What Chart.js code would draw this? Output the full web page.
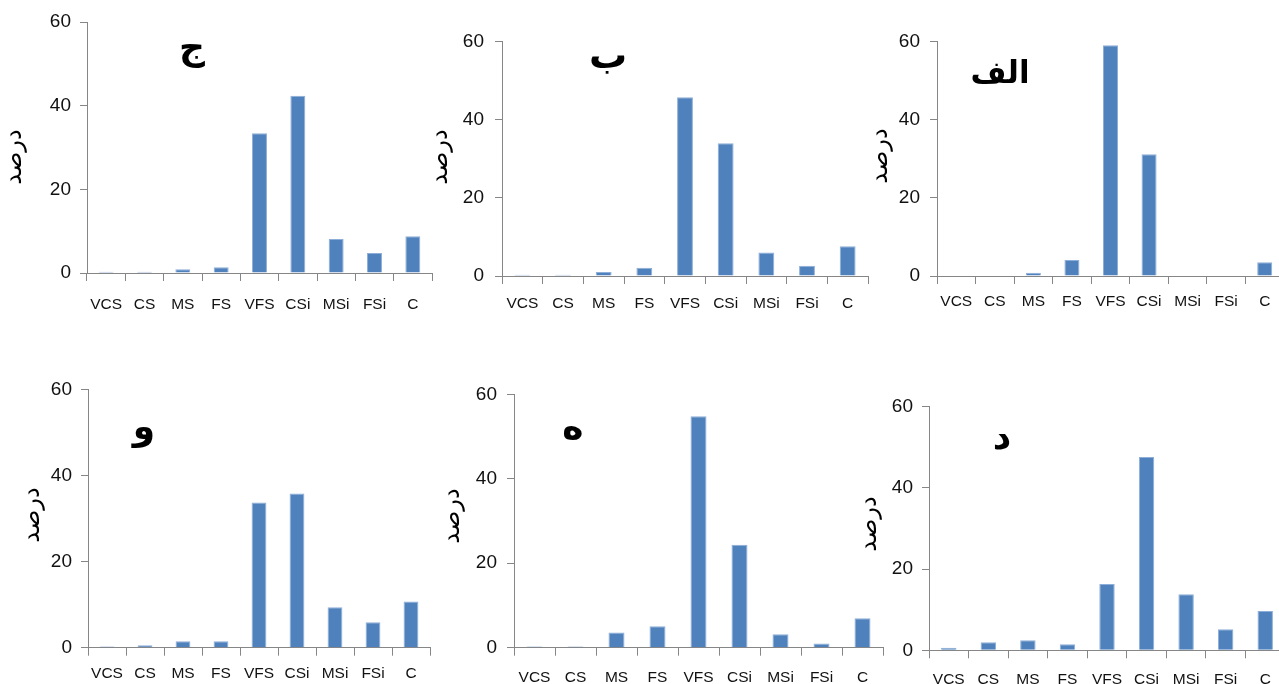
<!DOCTYPE html>
<html>
<head>
<meta charset="utf-8">
<script src="https://cdn.jsdelivr.net/npm/chart.js@4.4.1/dist/chart.umd.min.js"></script>
<style>
  html, body { margin: 0; padding: 0; background: #ffffff; width: 1279px; height: 684px; overflow: hidden; }
  #wrap { position: relative; width: 1279px; height: 684px; }
  canvas { position: absolute; left: 0; top: 0; }
</style>
</head>
<body>
<div id="wrap"></div>
<script>
// ---- data ----
const categories = ['VCS', 'CS', 'MS', 'FS', 'VFS', 'CSi', 'MSi', 'FSi', 'C'];
const yTicks = [0, 20, 40, 60];
const yAxisTitle = 'درصد';
const valuesAlef = [0, 0, 0.85, 4.1, 59.1, 31.2, 0, 0, 3.5];
const valuesBe   = [0.3, 0.3, 1.0, 2.1, 45.8, 34.0, 6.0, 2.6, 7.6];
const valuesJim  = [0.3, 0.3, 0.9, 1.4, 33.4, 42.4, 8.1, 4.8, 8.8];
const valuesDal  = [0.65, 2.0, 2.5, 1.5, 16.3, 47.6, 13.8, 5.2, 9.7];
const valuesHe   = [0.3, 0.3, 3.6, 5.05, 54.8, 24.4, 3.2, 1.0, 7.0];
const valuesVav  = [0.3, 0.55, 1.5, 1.5, 33.7, 35.8, 9.4, 5.9, 10.7];
const titleAlef = 'الف';
const titleBe = 'ب';
const titleJim = 'ج';
const titleDal = 'د';
const titleHe = 'ه';
const titleVav = 'و';

// ---- layout (pixel placement of each panel) ----
const CW = 1300, CH = 684, YW = 60, XH = 50;
const panels = [
  { title: titleJim,  values: valuesJim,  axisX: 87,  top: 22,    bottom: 273,   right: 432,  xPad: 14, yPad: 9,  yt: [15, 157],  tt: [192, 50],  ts: 36 },
  { title: titleBe,   values: valuesBe,   axisX: 502, top: 41.7,  bottom: 276,   right: 868,  xPad: 10, yPad: 11, yt: [441, 157], tt: [608, 58],  ts: 38 },
  { title: titleAlef, values: valuesAlef, axisX: 937, top: 41.7,  bottom: 276,   right: 1284, xPad: 8,  yPad: 10, yt: [881, 156], tt: [1000, 75], ts: 31 },
  { title: titleVav,  values: valuesVav,  axisX: 88,  top: 389.3, bottom: 647.7, right: 430,  xPad: 9,  yPad: 9,  yt: [33, 515],  tt: [144, 430], ts: 36 },
  { title: titleHe,   values: valuesHe,   axisX: 514, top: 394.3, bottom: 647.7, right: 883,  xPad: 13, yPad: 10, yt: [453, 516], tt: [573, 430], ts: 36 },
  { title: titleDal,  values: valuesDal,  axisX: 929, top: 406.7, bottom: 650.3, right: 1285, xPad: 12, yPad: 9,  yt: [870, 524], tt: [1002, 440], ts: 36 }
];

const panelText = {
  id: 'panelText',
  afterDraw(chart, args, opts) {
    const ctx = chart.ctx;
    ctx.save();
    ctx.fillStyle = '#000';
    ctx.textAlign = 'center';
    ctx.textBaseline = 'middle';
    // y-axis title
    ctx.save();
    ctx.translate(opts.yt[0], opts.yt[1]);
    ctx.rotate(-Math.PI / 2);
    ctx.font = '24px "DejaVu Sans", sans-serif';
    ctx.fillText(opts.yTitle, 0, 0);
    ctx.restore();
    // panel label
    ctx.font = 'bold ' + opts.ts + 'px "DejaVu Sans", sans-serif';
    ctx.fillText(opts.title, opts.tt[0], opts.tt[1]);
    ctx.restore();
  }
};

const wrap = document.getElementById('wrap');
panels.forEach((p) => {
  const c = document.createElement('canvas');
  c.width = CW; c.height = CH;
  c.style.width = CW + 'px'; c.style.height = CH + 'px';
  wrap.appendChild(c);
  new Chart(c.getContext('2d'), {
    type: 'bar',
    data: {
      labels: categories,
      datasets: [{
        data: p.values,
        backgroundColor: '#4F81BD',
        borderColor: '#8DAED8',
        borderWidth: 1,
        barPercentage: 0.39,
        categoryPercentage: 1.0
      }]
    },
    options: {
      responsive: false,
      animation: false,
      devicePixelRatio: 1,
      layout: {
        padding: {
          left: p.axisX - YW,
          top: p.top,
          right: CW - p.right,
          bottom: CH - p.bottom - XH
        }
      },
      plugins: {
        legend: { display: false },
        tooltip: { enabled: false },
        title: { display: false },
        panelText: { title: p.title, yTitle: yAxisTitle, yt: p.yt, tt: p.tt, ts: p.ts }
      },
      scales: {
        x: {
          offset: true,
          afterFit(scale) { scale.height = XH; },
          grid: { offset: true, drawOnChartArea: false, drawTicks: true, tickLength: 8, color: '#868686', lineWidth: 1 },
          border: { display: true, color: '#868686', width: 1 },
          ticks: {
            padding: p.xPad,
            color: '#111',
            font: { family: '"Liberation Sans", Arial, sans-serif', size: 15.5 },
            maxRotation: 0, minRotation: 0, autoSkip: false
          }
        },
        y: {
          min: yTicks[0],
          max: yTicks[yTicks.length - 1],
          afterFit(scale) { scale.width = YW; },
          afterBuildTicks(scale) { scale.ticks = yTicks.map(v => ({ value: v })); },
          grid: { drawOnChartArea: false, drawTicks: true, tickLength: 7, color: '#868686', lineWidth: 1 },
          border: { display: true, color: '#868686', width: 1 },
          ticks: {
            padding: p.yPad,
            color: '#111',
            font: { family: '"Liberation Sans", Arial, sans-serif', size: 19 }
          }
        }
      }
    },
    plugins: [panelText]
  });
});
</script>
</body>
</html>
